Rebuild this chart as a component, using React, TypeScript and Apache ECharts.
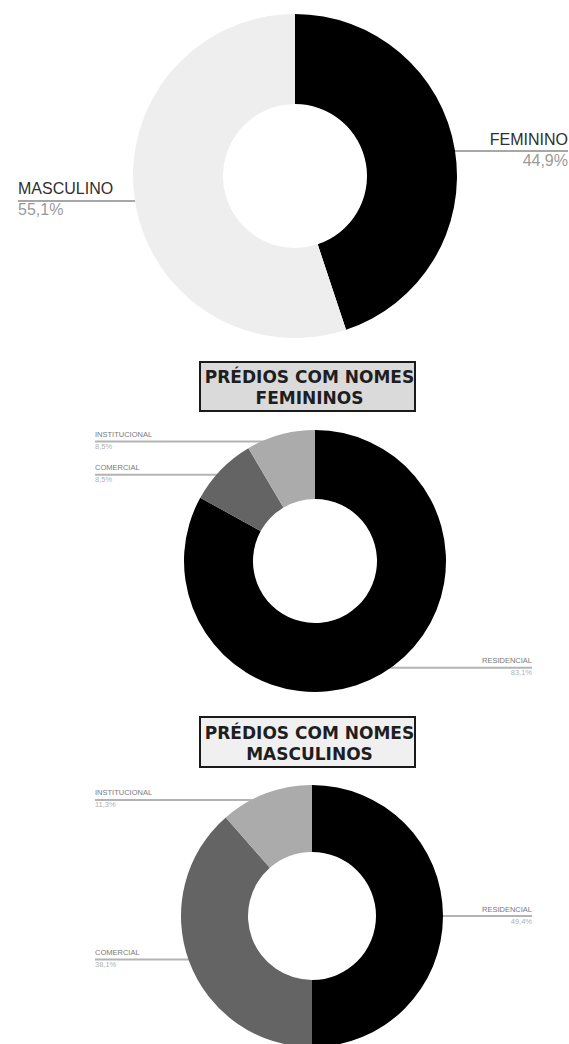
import React, { useEffect, useRef } from "react";
import * as echarts from "echarts";

const genderNames = ["FEMININO", "MASCULINO"];
const genderValues = [44.9, 55.1];
const genderColors = ["#000000", "#eeeeee"];

const useNames = ["RESIDENCIAL", "COMERCIAL", "INSTITUCIONAL"];
const femValues = [83.1, 8.5, 8.5];
const mascValues = [49.4, 38.1, 11.3];
const useColors = ["#000000", "#646464", "#ababab"];

const titleFem = ["PRÉDIOS COM NOMES", "FEMININOS"];
const titleMasc = ["PRÉDIOS COM NOMES", "MASCULINOS"];

const fmt = (v: number) => v.toFixed(1).replace(".", ",") + "%";

function makeLayout(leftEdge: number, rightEdge: number, center: number[], inset: number) {
  return (params: any) => {
    const pts = params.labelLinePoints;
    if (!pts || !pts.length) return {};
    const ox = pts[0][0];
    const oy = pts[0][1];
    const dx = ox - center[0];
    const dy = oy - center[1];
    const d = Math.sqrt(dx * dx + dy * dy) || 1;
    const sx = ox - (dx / d) * inset;
    const sy = oy - (dy / d) * inset;
    const isLeft = sx < center[0];
    const ex = isLeft ? leftEdge : rightEdge;
    return {
      x: ex,
      y: sy,
      align: isLeft ? "left" : "right",
      verticalAlign: "middle",
      labelLinePoints: [
        [sx, sy],
        [(sx + ex) / 2, sy],
        [ex, sy],
      ],
    };
  };
}

function pieSeries(
  names: string[],
  values: number[],
  colors: string[],
  center: number[],
  radius: number[],
  leftEdge: number,
  rightEdge: number,
  inset: number,
  big: boolean
) {
  return {
    type: "pie",
    center,
    radius,
    startAngle: 90,
    clockwise: true,
    avoidLabelOverlap: false,
    silent: true,
    z: 2,
    data: names.map((n, i) => ({
      name: n,
      value: values[i],
      itemStyle: { color: colors[i] },
    })),
    label: {
      show: true,
      position: "outside",
      formatter: (p: any) => `{n|${p.name}}\n{v|${fmt(p.value)}}`,
      rich: big
        ? {
            n: { fontFamily: "Liberation Sans", fontSize: 16, color: "#2f2f2f", lineHeight: 18 },
            v: { fontFamily: "Liberation Sans", fontSize: 16, color: "#9a9a9a", lineHeight: 24 },
          }
        : {
            n: { fontFamily: "Liberation Sans", fontSize: 7.5, color: "#7a7a7a", lineHeight: 10 },
            v: { fontFamily: "Liberation Sans", fontSize: 7.5, color: "#b0b0b0", lineHeight: 14 },
          },
    },
    labelLine: {
      show: true,
      length: 10,
      length2: 10,
      smooth: false,
      lineStyle: { color: big ? "#8a8a8a" : "#b4b4b4", width: big ? 1.5 : 2 },
    },
    labelLayout: makeLayout(leftEdge, rightEdge, center, inset),
    emphasis: { disabled: true },
  };
}

function titleBox(x: number, y: number, w: number, h: number, fill: string, lines: string[]) {
  return {
    type: "group",
    children: [
      {
        type: "rect",
        shape: { x, y, width: w, height: h },
        style: { fill, stroke: "#1a1a1a", lineWidth: 2 },
      },
      {
        type: "text",
        x: x + w / 2 + 2,
        y: y + h / 2 + 1,
        style: {
          text: lines.join("\n"),
          fontFamily: "DejaVu Sans",
          fontWeight: "bold",
          fontSize: 17,
          lineHeight: 21,
          fill: "#1e1e1e",
          align: "center",
          verticalAlign: "middle",
        },
      },
    ],
  };
}

export default function App() {
  const ref = useRef<HTMLDivElement>(null);
  useEffect(() => {
    if (!ref.current) return;
    const chart = echarts.init(ref.current, null, { renderer: "svg" });
    chart.setOption({
      animation: false,
      backgroundColor: "#ffffff",
      series: [
        pieSeries(genderNames, genderValues, genderColors, [295, 176], [72, 162], 18, 568, 6, true),
        pieSeries(useNames, femValues, useColors, [315, 561], [62, 131], 95, 532, 7, false),
        pieSeries(useNames, mascValues, useColors, [312, 916], [64, 131], 95, 532, 7, false),
      ],
      graphic: [
        titleBox(200, 362, 215, 49, "#dadada", titleFem),
        titleBox(200, 717, 215, 50, "#f0f0f0", titleMasc),
      ],
    });
    return () => chart.dispose();
  }, []);
  return (
    <div
      ref={ref}
      style={{ position: "fixed", left: 0, top: 0, width: 569, height: 1044 }}
    />
  );
}
